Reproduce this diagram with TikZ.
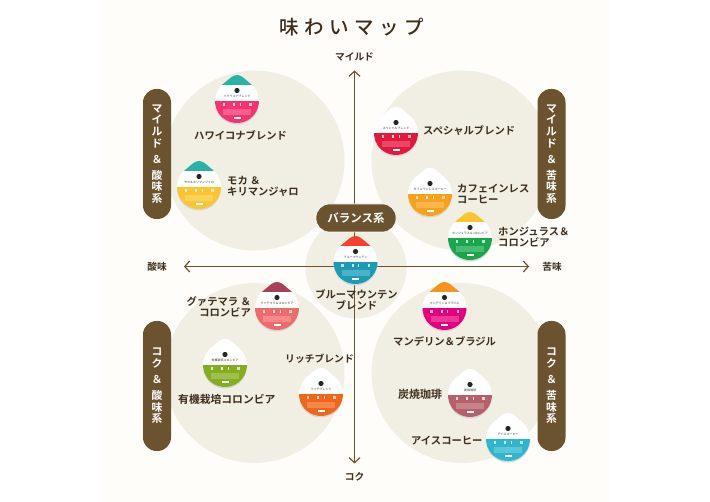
\documentclass[tikz,border=0pt]{standalone}
\usepackage{fontspec}
\setmainfont{Noto Sans CJK JP}[BoldFont={Noto Sans CJK JP Bold}]
\newfontfamily\widefont{Noto Sans CJK JP}[LetterSpace=28,UprightFont=* Medium]
\usetikzlibrary{
    positioning,
    arrows.meta
}

\begin{document}
\begin{tikzpicture}[
    x=1pt, y=-1pt,
    font=\bfseries\fontsize{10.3}{12}\selectfont,
    lbl/.style={
    	inner sep=0pt, align=left, anchor=west, text=my-dark
    }, axislbl/.style={
    	inner sep=0pt, text=my-dark, font=\bfseries\fontsize{9.7}{11}\selectfont
    }, pill/.style={
    	fill=my-brown, rounded corners=13.5pt,
    	minimum width=28pt, minimum height=130pt,
    	inner sep=0pt, align=center, text=white,
    	font=\bfseries\fontsize{10.8}{11.6}\selectfont
    }, zone/.style={
    	fill=my-cream, draw=none
    }, pil/.style={
    	{Straight Barb[length=5pt,width=11pt,line width=1.2pt]}-{Straight Barb[length=5pt,width=11pt,line width=1.2pt]},
    	line width=1.4pt, draw=my-brown
    },
    pics/pod/.style n args={3}{code={
    	\fill[black!16] (0,-24.5) -- (14.1,-15.35) arc[start angle=-50,end angle=230,radius=22] -- cycle;
    	\begin{scope}
    	\path[clip] (0,-26) .. controls (1.5,-26) and (3.5,-25.4) .. (5.7,-23.9) -- (14.1,-16.85)
    		arc[start angle=-50,end angle=230,radius=22]
    		-- (-5.7,-23.9) .. controls (-3.5,-25.4) and (-1.5,-26) .. (0,-26) -- cycle;
    	\fill[white] (-24,-28) rectangle (24,0);
    	\fill[fill=#1] (-24,-28) rectangle (24,-16);
    	\fill[fill=#2] (-24,0) rectangle (24,24);
    	\fill[white, opacity=.22] (-14,8) rectangle (14,14);
    	\fill[white, opacity=.7] (-14.5,2.5) rectangle (-12,5.5);
    	\fill[white, opacity=.8] (-4,2.5) rectangle (-2,5);
    	\fill[white, opacity=.8] (2.5,2.5) rectangle (3.3,5.5);
    	\fill[white, opacity=.7] (12,2.5) rectangle (14.5,5.5);
    	\fill[white] (-3.5,16.5) rectangle (3.5,18.5);
    	\end{scope}
    	\fill[black!85] (0,-10.5) circle (2.6);
    	\node[inner sep=0pt, text=black!80, font=\fontsize{3}{3.4}\selectfont] at (0,-4.5) {#3};
    }}]
    \definecolor{my-dark}{RGB}{60, 45, 28}
    \definecolor{my-brown}{RGB}{107, 83, 48}
    \definecolor{my-cream}{RGB}{241, 238, 228}
    \definecolor{my-panel}{RGB}{254, 253, 250}
    \definecolor{my-teal}{RGB}{42, 179, 165}
    \definecolor{my-pink}{RGB}{245, 51, 111}
    \definecolor{my-yellow}{RGB}{251, 197, 49}
    \definecolor{my-red}{RGB}{228, 23, 60}
    \definecolor{my-orange}{RGB}{249, 161, 27}
    \definecolor{my-green}{RGB}{24, 167, 76}
    \definecolor{my-vermilion}{RGB}{245, 65, 45}
    \definecolor{my-blue}{RGB}{28, 155, 181}
    \definecolor{my-maroon}{RGB}{169, 63, 88}
    \definecolor{my-coral}{RGB}{239, 106, 109}
    \definecolor{my-olive}{RGB}{133, 173, 31}
    \definecolor{my-deep-orange}{RGB}{242, 102, 26}
    \definecolor{my-amber}{RGB}{247, 148, 29}
    \definecolor{my-magenta}{RGB}{230, 0, 126}
    \definecolor{my-rose}{RGB}{181, 96, 107}
    \definecolor{my-cyan}{RGB}{47, 182, 207}

    \useasboundingbox (0,0) rectangle (710,502);
    \fill[white] (0,0) rectangle (710,502);
    \fill[my-panel] (100,0) rectangle (610,502);

    %%% ZONES
    \fill[zone] (254.5,160.5) circle (90);
    \fill[zone] (461.5,160.5) circle (90);
    \fill[zone] (254.5,373) circle (90);
    \fill[zone] (461.5,373) circle (90);
    \fill[zone] (356,268) circle (50.5);

    \node[inner sep=0pt, font=\fontsize{19.5}{22}\selectfont, text=my-dark] (title) at (352,27) {\widefont 味わいマップ};

    %%% AXES
    \node[axislbl] (mild) at (354.5,57) {マイルド};
    \node[axislbl] (koku) at (354.5,477) {コク};
    \node[axislbl] (acid) at (157,266.5) {酸味};
    \node[axislbl] (bitter) at (552,266.5) {苦味};

    \draw[pil, shorten <=9pt, shorten >=9pt] (mild) -- (koku);
    \draw[pil, shorten <=17pt, shorten >=13pt] (acid) -- (bitter);

    %%% GROUPS
    \node[pill] (mild-acid) at (157,154) {マ\\イ\\ル\\ド\\[4.5pt]＆\\[4.5pt]酸\\味\\系};
    \node[pill] (mild-bitter) at (551.5,154) {マ\\イ\\ル\\ド\\[4.5pt]＆\\[4.5pt]苦\\味\\系};
    \node[pill] (koku-acid) at (157,386) {コ\\ク\\[4.5pt]＆\\[4.5pt]酸\\味\\系};
    \node[pill] (koku-bitter) at (551.5,386) {コ\\ク\\[4.5pt]＆\\[4.5pt]苦\\味\\系};
    \node[pill, minimum width=80pt, minimum height=28pt, draw=white!70!my-cream, line width=.6pt, font=\bfseries\fontsize{11.5}{13}\selectfont] (balance) at (356,218) {バランス系};

    %%% PODS
    \pic at (237,101) {pod={my-teal}{my-pink}{ハワイコナブレンド}};
    \pic at (199,187) {pod={my-teal}{my-yellow}{モカ＆キリマンジャロ}};
    \pic at (396,133) {pod={white}{my-red}{スペシャルブレンド}};
    \pic at (430,194) {pod={white}{my-orange}{カフェインレスコーヒー}};
    \pic at (470,238) {pod={my-yellow}{my-green}{ホンジュラス＆コロンビア}};
    \pic at (355.5,262) {pod={my-vermilion}{my-blue}{ブルーマウンテン}};
    \pic at (277,308) {pod={my-maroon}{my-coral}{グァテマラ＆コロンビア}};
    \pic at (225,365) {pod={white}{my-olive}{有機栽培コロンビア}};
    \pic at (321,394) {pod={white}{my-deep-orange}{リッチブレンド}};
    \pic at (444.5,308) {pod={my-amber}{my-magenta}{マンデリン＆ブラジル}};
    \pic at (470,395) {pod={white}{my-rose}{炭焼珈琲}};
    \pic at (508,439) {pod={white}{my-cyan}{アイスコーヒー}};

    %%% NAMES
    \node[lbl] (hawaii) at (194,135) {ハワイコナブレンド};
    \node[lbl] (mocha) at (227,186) {モカ ＆\\[-1pt]キリマンジャロ};
    \node[lbl] (special) at (423,131) {スペシャルブレンド};
    \node[lbl] (decaf) at (457,194) {カフェインレス\\[-1pt]コーヒー};
    \node[lbl] (honduras) at (498,237) {ホンジュラス＆\\[-1pt]コロンビア};
    \node[lbl, align=center, anchor=center] (blue-mtn) at (356.5,300) {ブルーマウンテン\\[-1pt]ブレンド};
    \node[lbl, align=right, anchor=east] (guatemala) at (251,307) {グァテマラ ＆\\[-1pt]コロンビア};
    \node[lbl, font=\bfseries\fontsize{10.8}{12}\selectfont] (organic) at (178,399) {有機栽培コロンビア};
    \node[lbl, font=\bfseries\fontsize{9.8}{12}\selectfont] (rich) at (285,359) {リッチブレンド};
    \node[lbl] (mandheling) at (393,341) {マンデリン＆ブラジル};
    \node[lbl, font=\bfseries\fontsize{11}{12}\selectfont] (charcoal) at (398,394) {炭焼珈琲};
    \node[lbl] (iced) at (411,441) {アイスコーヒー};

\end{tikzpicture}
\end{document}
